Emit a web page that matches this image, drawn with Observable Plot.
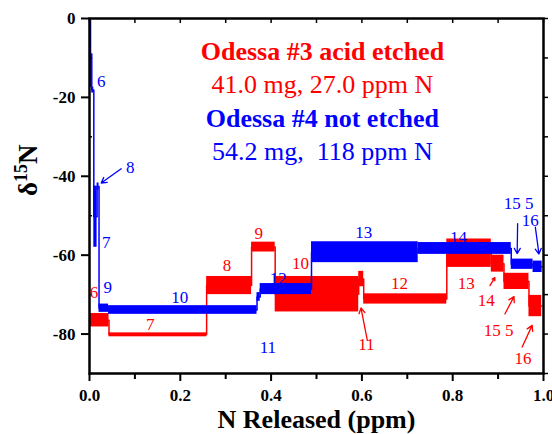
<!DOCTYPE html>
<html><head><meta charset="utf-8">
<script src="https://cdn.jsdelivr.net/npm/d3@7"></script>
<script src="https://cdn.jsdelivr.net/npm/@observablehq/plot@0.6"></script>
<style>
html,body{margin:0;padding:0;background:#fff;}
svg text{font-family:'Liberation Serif','Times New Roman',serif !important;}
</style>
</head><body><div id="chart"></div>
<script>
// Red: Odessa #3 acid etched — step boxes (cumulative N released, delta15N range)
const redStep = ["6","7","8","9","10","11","12","13","14","15.5","16"];
const redX1 = [0.000, 0.043, 0.258, 0.357, 0.409, 0.593, 0.604, 0.787, 0.885, 0.913, 0.968];
const redX2 = [0.043, 0.258, 0.357, 0.409, 0.593, 0.604, 0.787, 0.885, 0.913, 0.968, 0.996];
const redLo = [-78.2, -80.7, -70.0, -59.2, -74.4, -68.0, -72.4, -63.1, -64.3, -68.7, -75.6];
const redHi = [-74.8, -79.7, -65.4, -56.7, -65.4, -64.1, -69.8, -55.9, -60.0, -64.6, -70.2];

// Blue: Odessa #4 not etched
const blueStep = ["5","6","7","8","9","10","11","12","13","14","15.5","16"];
const blueX1 = [0.000, 0.005, 0.0095, 0.0167, 0.021, 0.042, 0.369, 0.376, 0.489, 0.724, 0.929, 0.977];
const blueX2 = [0.005, 0.0095, 0.0167, 0.021, 0.042, 0.369, 0.376, 0.489, 0.724, 0.929, 0.977, 0.997];
const blueLo = [-17.5, -18.9, -58.0, -43.5, -74.5, -75.0, -71.7, -70.0, -61.9, -59.8, -63.6, -64.4];
const blueHi = [-0.5, -17.4, -42.5, -41.7, -72.4, -72.8, -69.5, -67.2, -56.6, -56.8, -61.0, -61.5];

// Step number labels
const redLabelText = ["6","7","8","9","10","11","12","13","14","15 5","16"];
const redLabelX = [0.010, 0.134, 0.303, 0.373, 0.465, 0.610, 0.683, 0.830, 0.874, 0.901, 0.955];
const redLabelY = [-69.6, -77.6, -62.6, -54.6, -62.0, -82.7, -67.1, -67.1, -71.5, -79.1, -86.1];
const blueLabelText = ["6","8","7","9","10","11","12","13","14","15 5","16"];
const blueLabelX = [0.026, 0.090, 0.037, 0.040, 0.199, 0.393, 0.416, 0.604, 0.813, 0.945, 0.971];
const blueLabelY = [-16.1, -37.8, -56.8, -68.2, -70.8, -83.4, -65.9, -54.3, -55.5, -46.9, -51.2];

// Arrows (from label to box)
const redArrowX1 = [0.612, 0.882, 0.915, 0.953];
const redArrowY1 = [-81.6, -67.7, -74.9, -83.3];
const redArrowX2 = [0.598, 0.893, 0.935, 0.975];
const redArrowY2 = [-73.4, -65.7, -70.5, -77.8];
const blueArrowX1 = [0.0698, 0.943, 0.982];
const blueArrowY1 = [-38.1, -52.0, -52.9];
const blueArrowX2 = [0.0258, 0.942, 0.990];
const blueArrowY2 = [-41.7, -59.6, -59.7];

// Legend text
const titleText = ["Odessa #3 acid etched", "41.0 mg, 27.0 ppm N", "Odessa #4 not etched", "54.2 mg,  118 ppm N"];
const titleY = [-8.5, -16.7, -25.4, -33.7];
const titleColor = ["#ff0000", "#ff0000", "#0000ff", "#0000ff"];
const titleBold = [true, false, true, false];
const titleX = 0.513;

// Ticks
const xMajor = [0, 0.2, 0.4, 0.6, 0.8, 1.0];
const xMinor = [0.1, 0.3, 0.5, 0.7, 0.9];
const xAll = [0, 0.1, 0.2, 0.3, 0.4, 0.5, 0.6, 0.7, 0.8, 0.9, 1.0];
const yMajor = [-80, -60, -40, -20, 0];
const yMinor = [-90, -70, -50, -30, -10];
const yAll = [-90, -80, -70, -60, -50, -40, -30, -20, -10, 0];

const RED = "#ff0000", BLUE = "#0000ff";

function rects(x1, x2, lo, hi) { return x1.map((_, i) => ({x1: x1[i], x2: x2[i], lo: lo[i], hi: hi[i]})); }
function path(x1, x2, lo, hi) {
  const p = x1.map((_, i) => ({x: x1[i], y: (lo[i] + hi[i]) / 2}));
  const n = x1.length - 1;
  p.push({x: x2[n], y: (lo[n] + hi[n]) / 2});
  return p;
}
function labels(t, x, y) { return t.map((_, i) => ({t: t[i], x: x[i], y: y[i]})); }
function arrows(x1, y1, x2, y2) { return x1.map((_, i) => ({x1: x1[i], y1: y1[i], x2: x2[i], y2: y2[i]})); }

const titles = titleText.map((t, i) => ({t, y: titleY[i], c: titleColor[i], b: titleBold[i]}));

const serif = "Liberation Serif";

const plot = Plot.plot({
  width: 552, height: 434,
  marginLeft: 89, marginRight: 9, marginTop: 18, marginBottom: 61,
  x: {domain: [0, 1], axis: null},
  y: {domain: [-90, 0], axis: null},
  style: {fontFamily: serif, background: "white", color: "black"},
  marks: [
    Plot.rect(rects(redX1, redX2, redLo, redHi), {x1: "x1", x2: "x2", y1: "lo", y2: "hi", fill: RED}),
    Plot.line(path(redX1, redX2, redLo, redHi), {x: "x", y: "y", curve: "step-after", stroke: RED, strokeWidth: 1.5}),
    Plot.rect(rects(blueX1, blueX2, blueLo, blueHi), {x1: "x1", x2: "x2", y1: "lo", y2: "hi", fill: BLUE}),
    Plot.line(path(blueX1, blueX2, blueLo, blueHi), {x: "x", y: "y", curve: "step-after", stroke: BLUE, strokeWidth: 1.5}),
    Plot.frame({stroke: "black", strokeWidth: 2.5}),
    Plot.axisX({anchor: "bottom", ticks: xMajor, tickSize: 8, tickPadding: 7, strokeWidth: 2,
      tickFormat: d3.format(".1f"), fontFamily: serif, fontSize: 17, fontWeight: "bold", label: null}),
    Plot.axisX({anchor: "bottom", ticks: xMinor, tickSize: 6, strokeWidth: 2, tickFormat: () => "", label: null}),
    Plot.axisX({anchor: "top", ticks: xAll, tickSize: -4, strokeWidth: 1.5, tickFormat: () => "", label: null}),
    Plot.axisY({anchor: "left", ticks: yMajor, tickSize: 8, tickPadding: 6, strokeWidth: 2,
      tickFormat: d => d === 0 ? "0" : "-" + Math.abs(d), fontFamily: serif, fontSize: 17, fontWeight: "bold", label: null}),
    Plot.axisY({anchor: "left", ticks: yMinor, tickSize: -3, strokeWidth: 1.5, tickFormat: () => "", label: null}),
    Plot.axisY({anchor: "right", ticks: yAll, tickSize: 4, strokeWidth: 1.5, tickFormat: () => "", label: null}),
    Plot.text(labels(redLabelText, redLabelX, redLabelY), {x: "x", y: "y", text: "t", fill: RED, fontSize: 17, fontFamily: serif}),
    Plot.text(labels(blueLabelText, blueLabelX, blueLabelY), {x: "x", y: "y", text: "t", fill: BLUE, fontSize: 17, fontFamily: serif}),
    Plot.arrow(arrows(redArrowX1, redArrowY1, redArrowX2, redArrowY2), {x1: "x1", y1: "y1", x2: "x2", y2: "y2", stroke: RED, strokeWidth: 1.3, headLength: 7}),
    Plot.arrow(arrows(blueArrowX1, blueArrowY1, blueArrowX2, blueArrowY2), {x1: "x1", y1: "y1", x2: "x2", y2: "y2", stroke: BLUE, strokeWidth: 1.3, headLength: 7}),
    Plot.text(titles.filter(d => d.b), {x: () => titleX, y: "y", text: "t", fill: "c", fontSize: 26, fontWeight: "bold", fontFamily: serif}),
    Plot.text(titles.filter(d => !d.b), {x: () => titleX, y: "y", text: "t", fill: "c", fontSize: 26, fontFamily: serif}),
    Plot.text(["N Released (ppm)"], {frameAnchor: "bottom", lineAnchor: "middle", dy: 46, fontSize: 26, fontWeight: "bold", fill: "black", fontFamily: serif}),
    Plot.text(["δ15N"], {frameAnchor: "left", dx: -61, rotate: -90, fontSize: 27, fontWeight: "bold", fill: "black", fontFamily: serif})
  ]
});
document.getElementById("chart").appendChild(plot);

// superscript for the y-axis label
d3.select(plot).selectAll("text").filter(function() { return this.textContent === "δ15N"; }).each(function() {
  const t = d3.select(this);
  t.text(null);
  t.append("tspan").text("δ");
  t.append("tspan").attr("dy", "-10").attr("font-size", 18).text("15");
  t.append("tspan").attr("dy", "10").text("N");
});
</script>
</body></html>
